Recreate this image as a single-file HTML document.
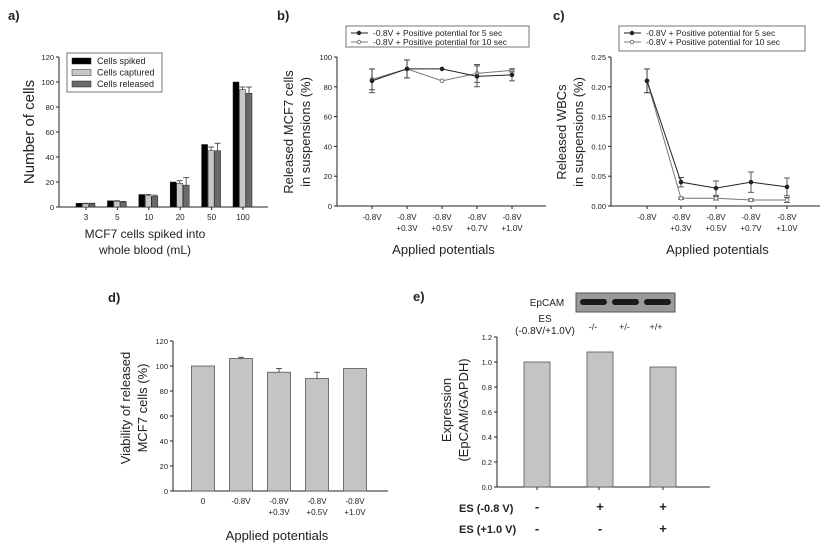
<!DOCTYPE html>
<html><head><meta charset="utf-8"><style>
body{margin:0;background:#fff;width:825px;height:546px;overflow:hidden;font-family:"Liberation Sans",Arial,sans-serif}
svg text{font-family:"Liberation Sans",Arial,sans-serif}
</style></head><body>
<svg id="s" width="825" height="546" viewBox="0 0 825 546">
<g id="g"></g>
</svg>
<script>
// panel a
const aCats=["3","5","10","20","50","100"];
const aSpiked=[3,5,10,20,50,100];
const aCaptured=[2.5,4.5,9,19,45,94];
const aReleased=[2.5,4,8.5,17.5,45,91];
const aCapErr=[0.5,0.5,1,2,3,2];
const aRelErr=[0.5,0.5,1,6,6,5];
const aTicks=[0,20,40,60,80,100,120];
// panel b
const bCats=[["-0.8V"],["-0.8V","+0.3V"],["-0.8V","+0.5V"],["-0.8V","+0.7V"],["-0.8V","+1.0V"]];
const b5=[84,92,92,87,88];
const b5Err=[8,6,0,7,4];
const b10=[85,92,84,89,91];
const b10Err=[7,6,0,6,1];
const bTicks=[0,20,40,60,80,100];
// panel c
const c5=[0.21,0.04,0.03,0.04,0.032];
const c5Err=[0.02,0.008,0.012,0.017,0.015];
const c10=[0.21,0.013,0.013,0.01,0.01];
const c10Err=[0.02,0.002,0.003,0.002,0.004];
const cTicks=[0,0.05,0.10,0.15,0.20,0.25];
// panel d
const dCats=[["0"],["-0.8V"],["-0.8V","+0.3V"],["-0.8V","+0.5V"],["-0.8V","+1.0V"]];
const dVals=[100,106,95,90,98];
const dErr=[0,1,3,5,0];
const dTicks=[0,20,40,60,80,100,120];
// panel e
const eVals=[1.0,1.08,0.96];
const eTop=["-/-","+/-","+/+"];
const eRow1=["-","+","+"];
const eRow2=["-","-","+"];
const eTicks=[0,0.2,0.4,0.6,0.8,1.0,1.2];

const NS="http://www.w3.org/2000/svg";
const G=document.getElementById('g');
function el(t,a,p){const e=document.createElementNS(NS,t);for(const k in a)e.setAttribute(k,a[k]);(p||G).appendChild(e);return e;}
function txt(x,y,s,o){o=o||{};const e=el('text',{x:x,y:y,'font-size':o.fs||9,'text-anchor':o.anchor||'middle',fill:'#222','font-weight':o.bold?'bold':'normal'});if(o.rot)e.setAttribute('transform','rotate(-90 '+x+' '+y+')');e.textContent=s;return e;}
function scale(d0,d1,r0,r1){return v=>r0+(v-d0)/(d1-d0)*(r1-r0);}
function axes(x0,x1,y0,y1,ys,ticks,fmt,xt){
  const ax=el('line',{x1:x0,y1:y0,x2:x0,y2:y1,stroke:'#222','stroke-width':1});
  
  const bx=el('line',{x1:x0,y1:y0,x2:x1,y2:y0,stroke:'#222','stroke-width':1});
  
  ticks.forEach(t=>{const y=ys(t);el('line',{x1:x0-3,y1:y,x2:x0,y2:y,stroke:'#222'});
    const tl=txt(x0-5,y+3,fmt(t),{anchor:'end',fs:7.5});});
  xt.forEach(x=>el('line',{x1:x,y1:y0,x2:x,y2:y0+3,stroke:'#222'}));
}
function err(x,y,y2){if(Math.abs(y-y2)<0.5)return;el('line',{x1:x,y1:y,x2:x,y2:y2,stroke:'#333','stroke-width':0.8});el('line',{x1:x-3,y1:y2,x2:x+3,y2:y2,stroke:'#333','stroke-width':0.8});}
function label(x,y,s){const t=txt(x,y,s,{anchor:'start',fs:13,bold:true});}

// ---- a ----
label(8,20,'a)');
{const ys=scale(0,120,207,57);const xs=i=>86+i*31.4;
axes(59,268,207,57,ys,aTicks,v=>String(v),aCats.map((c,i)=>xs(i)));
aCats.forEach((c,i)=>{const cx=xs(i);
 const sets=[[aSpiked,'#000',null],[aCaptured,'#c8c8c8',aCapErr],[aReleased,'#6a6a6a',aRelErr]];
 sets.forEach((s,j)=>{const x=cx-10+j*6.5;const v=s[0][i];
  const r=el('rect',{x:x,y:ys(v),width:6,height:207-ys(v),fill:s[1],stroke:'#222','stroke-width':0.5});
  
  if(s[2])err(x+3,ys(v),ys(v+s[2][i]));});
 txt(cx,220,c,{fs:8});});
const lg=el('rect',{x:67,y:53,width:95,height:39,fill:'#fff',stroke:'#555','stroke-width':0.8});
[['Cells spiked','#000'],['Cells captured','#c8c8c8'],['Cells released','#6a6a6a']].forEach((l,i)=>{el('rect',{x:72,y:58+i*11.5,width:19,height:6,fill:l[1],stroke:'#222','stroke-width':0.5});const t=txt(97,64+i*11.5,l[0],{anchor:'start',fs:9});});
const yt=txt(34,132,'Number of cells',{fs:15,rot:true});
const xt1=txt(145,238,'MCF7 cells spiked into',{fs:12});
txt(145,254,'whole blood (mL)',{fs:12});}

function linePanel(x0,x1,xsArr,ys,ticks,fmt,s5,e5,s10,e10,leg,ytl,yx,name){
 axes(x0,x1,206,57,ys,ticks,fmt,xsArr);
 bCats.forEach((c,i)=>c.forEach((l,k)=>txt(xsArr[i],220+k*11,l,{fs:8})));
 [[s10,e10,'#777','#fff','10s'],[s5,e5,'#222','#222','5s']].forEach(s=>{
  const p=el('polyline',{points:s[0].map((v,i)=>xsArr[i]+','+ys(v)).join(' '),fill:'none',stroke:s[2],'stroke-width':1});
  
  s[0].forEach((v,i)=>{err(xsArr[i],ys(v),ys(v+s[1][i]));err(xsArr[i],ys(v),ys(v-s[1][i]));
   const m=el('circle',{cx:xsArr[i],cy:ys(v),r:1.8,fill:s[3],stroke:s[2]});});});
 const lg=el('rect',{x:leg[0],y:leg[1],width:leg[2],height:leg[3],fill:'#fff',stroke:'#555','stroke-width':0.8});
 [['-0.8V + Positive potential for 5 sec','#222','#222'],['-0.8V + Positive potential for 10 sec','#777','#fff']].forEach((l,i)=>{const y=leg[1]+7+i*9;
  el('line',{x1:leg[0]+5,y1:y,x2:leg[0]+22,y2:y,stroke:l[1]});el('circle',{cx:leg[0]+13,cy:y,r:1.7,fill:l[2],stroke:l[1]});
  const t=txt(leg[0]+27,y+3,l[0],{anchor:'start',fs:8.5});});
 const a=txt(yx,132,ytl[0],{fs:13,rot:true});
 txt(yx+17,132,ytl[1],{fs:13,rot:true});
 const xt=txt((x0+x1)/2+2,254,'Applied potentials',{fs:13});
}
label(277,20,'b)');
linePanel(337,546,[372,407,442,477,512],scale(0,100,206,57),bTicks,v=>String(v),b5,b5Err,b10,b10Err,[346,26,183,21],['Released MCF7 cells','in suspensions (%)'],293,'mcf7');
label(553,20,'c)');
linePanel(611,820,[647,681,716,751,787],scale(0,0.25,206,57),cTicks,v=>v.toFixed(2),c5,c5Err,c10,c10Err,[619,26,186,25],['Released WBCs','in suspensions (%)'],566,'wbc');

// ---- d ----
label(108,302,'d)');
{const ys=scale(0,120,491,341);const xs=i=>203+i*38;
axes(173,388,491,341,ys,dTicks,v=>String(v),[]);
dVals.forEach((v,i)=>{const r=el('rect',{x:xs(i)-11.5,y:ys(v),width:23,height:491-ys(v),fill:'#c4c4c4',stroke:'#555','stroke-width':0.8});
 
 err(xs(i),ys(v),ys(v+dErr[i]));
 dCats[i].forEach((l,k)=>txt(xs(i),504+k*11,l,{fs:8}));});
const a=txt(130,408,'Viability of released',{fs:13,rot:true});
txt(147,408,'MCF7 cells (%)',{fs:13,rot:true});
const xt=txt(277,540,'Applied potentials',{fs:13});}

// ---- e ----
label(413,301,'e)');
{const ys=scale(0,1.2,487,337);const xs=i=>537+i*63;
axes(497,710,487,337,ys,eTicks,v=>v.toFixed(1),[537,599,663]);
const blot=el('rect',{x:576,y:293,width:99,height:19,fill:'#9a9a9a',stroke:'#555'});
[0,1,2].forEach(i=>el('rect',{x:580+i*32,y:299,width:27,height:6,rx:3,fill:'#1a1a1a'}));
txt(547,306,'EpCAM',{fs:10});txt(545,322,'ES',{fs:10});txt(545,334,'(-0.8V/+1.0V)',{fs:10});
eVals.forEach((v,i)=>{const r=el('rect',{x:xs(i)-13,y:ys(v),width:26,height:487-ys(v),fill:'#c4c4c4',stroke:'#555','stroke-width':0.8});
 
 txt(593+i*31.5,330,eTop[i],{fs:9});
 txt(xs(i),511,eRow1[i],{fs:13,bold:true});txt(xs(i),533,eRow2[i],{fs:13,bold:true});});
txt(459,512,'ES (-0.8 V)',{fs:11,bold:true,anchor:'start'});
txt(459,533,'ES (+1.0 V)',{fs:11,bold:true,anchor:'start'});
const a=txt(451,410,'Expression',{fs:13,rot:true});
txt(468,410,'(EpCAM/GAPDH)',{fs:13,rot:true});}
</script>
</body></html>
